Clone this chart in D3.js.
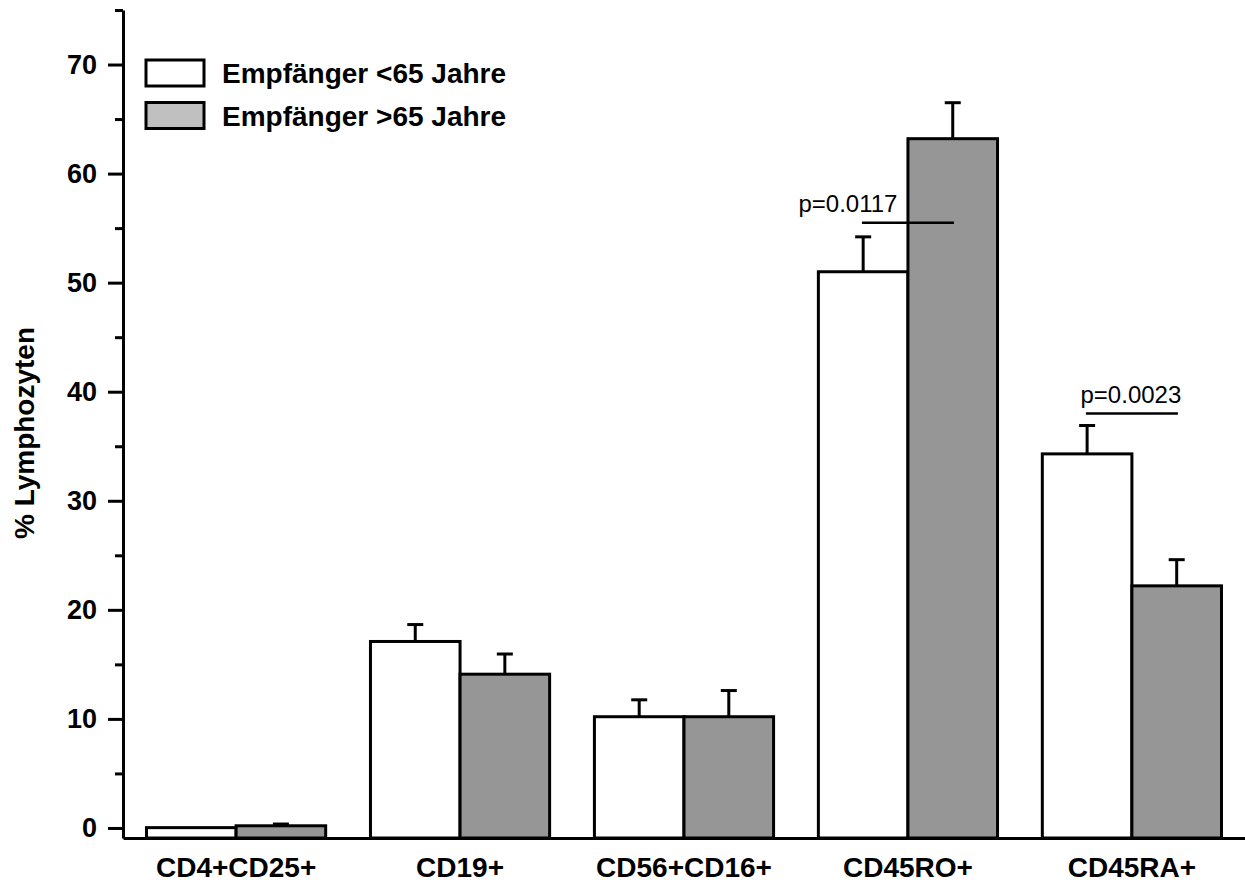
<!DOCTYPE html>
<html>
<head>
<meta charset="utf-8">
<script src="https://cdn.jsdelivr.net/npm/d3@7"></script>
<style>
  body { margin: 0; background: #fff; }
  svg { display: block; font-family: "Liberation Sans", Arial, sans-serif; }
</style>
</head>
<body>
<script>
var categories = ['CD4+CD25+','CD19+','CD56+CD16+','CD45RO+','CD45RA+'];
var seriesNames = ['Empfänger <65 Jahre','Empfänger >65 Jahre'];
var under65 = [0.03, 17.1, 10.2, 51.0, 34.3];
var under65Err = [0, 1.55, 1.55, 3.2, 2.6];
var over65 = [0.2, 14.1, 10.2, 63.2, 22.2];
var over65Err = [0.16, 1.85, 2.4, 3.3, 2.4];
var yTicks = [0,10,20,30,40,50,60,70];
var yMinor = [5,15,25,35,45,55,65,75];
var sigGroups = ['CD45RO+','CD45RA+'];
var sigLevels = [55.5, 38.0];
var sigLabels = ['p=0.0117','p=0.0023'];

var W = 1245, H = 886;
var svg = d3.select("body").append("svg").attr("width",W).attr("height",H);

var y = d3.scaleLinear().domain([-0.92,75]).range([838,10]);
var x = d3.scaleBand().domain(categories).range([123,1245])
  .paddingInner(0.2).paddingOuter(0.105);
var xs = d3.scaleBand().domain([0,1]).range([0,x.bandwidth()]);

var fills = ['#ffffff','#969696'];
var legendFills = ['#ffffff','#c0c0c0'];

var rows = [];
categories.forEach(function(c,i){
  rows.push({cat:c, s:0, v:under65[i], e:under65Err[i]});
  rows.push({cat:c, s:1, v:over65[i], e:over65Err[i]});
});

// bars
svg.append("g").selectAll("rect")
  .data(rows)
  .enter().append("rect")
    .attr("x",function(d){ return x(d.cat)+xs(d.s); })
    .attr("width",xs.bandwidth())
    .attr("y",function(d){ return y(d.v); })
    .attr("height",function(d){ return y.range()[0]-y(d.v); })
    .attr("fill",function(d){ return fills[d.s]; })
    .attr("stroke","#000")
    .attr("stroke-width",3);

// error bars (upper only)
var eb = svg.append("g").selectAll("g")
  .data(rows.filter(function(d){ return d.e>0; }))
  .enter().append("g")
  .attr("stroke","#000").attr("stroke-width",3);
eb.append("line")
  .attr("x1",function(d){ return x(d.cat)+xs(d.s)+xs.bandwidth()/2; })
  .attr("x2",function(d){ return x(d.cat)+xs(d.s)+xs.bandwidth()/2; })
  .attr("y1",function(d){ return y(d.v); })
  .attr("y2",function(d){ return y(d.v+d.e); });
eb.append("line")
  .attr("x1",function(d){ return x(d.cat)+xs(d.s)+xs.bandwidth()/2-8; })
  .attr("x2",function(d){ return x(d.cat)+xs(d.s)+xs.bandwidth()/2+8; })
  .attr("y1",function(d){ return y(d.v+d.e); })
  .attr("y2",function(d){ return y(d.v+d.e); });

// y axis
var yAxis = d3.axisLeft(y).tickValues(yTicks).tickSize(15).tickSizeOuter(0).tickPadding(11);
var gy = svg.append("g").attr("transform","translate(123,0)").call(yAxis);
gy.select(".domain").attr("stroke-width",3);
gy.selectAll(".tick line").attr("stroke-width",3);
gy.selectAll(".tick text")
  .attr("font-size",27).attr("font-weight","bold").attr("fill","#000")
  .attr("font-family","Liberation Sans, Arial, sans-serif");

var yAxisMinor = d3.axisLeft(y).tickValues(yMinor).tickSize(8).tickFormat("");
var gym = svg.append("g").attr("transform","translate(123,0)").call(yAxisMinor);
gym.select(".domain").remove();
gym.selectAll(".tick line").attr("stroke-width",3);

// x axis
var xAxis = d3.axisBottom(x).tickSize(0).tickPadding(19);
var gx = svg.append("g").attr("transform","translate(0,838)").call(xAxis);
gx.select(".domain").attr("stroke-width",3);
gx.selectAll(".tick text")
  .attr("font-size",28).attr("font-weight","bold").attr("fill","#000")
  .attr("font-family","Liberation Sans, Arial, sans-serif");

// y label
svg.append("text")
  .attr("transform","translate(34,433) rotate(-90)")
  .attr("text-anchor","middle")
  .attr("font-size",28).attr("font-weight","bold")
  .text("% Lymphozyten");

// legend
var lg = svg.append("g").selectAll("g")
  .data(seriesNames)
  .enter().append("g")
  .attr("transform",function(d,i){ return "translate(146,"+(60+i*42.5)+")"; });
lg.append("rect")
  .attr("width",58).attr("height",26)
  .attr("fill",function(d,i){ return legendFills[i]; })
  .attr("stroke","#000").attr("stroke-width",3);
lg.append("text")
  .attr("x",76).attr("y",23)
  .attr("font-size",28).attr("font-weight","bold")
  .text(function(d){ return d; });

// significance markers
var sigTextShift = [-60, -1];
var sg = svg.append("g").selectAll("g")
  .data(sigGroups)
  .enter().append("g");
sg.append("line")
  .attr("x1",function(d){ return x(d)+x.bandwidth()/2-46; })
  .attr("x2",function(d){ return x(d)+x.bandwidth()/2+46; })
  .attr("y1",function(d,i){ return y(sigLevels[i]); })
  .attr("y2",function(d,i){ return y(sigLevels[i]); })
  .attr("stroke","#000").attr("stroke-width",2.5);
sg.append("text")
  .attr("x",function(d,i){ return x(d)+x.bandwidth()/2+sigTextShift[i]; })
  .attr("y",function(d,i){ return y(sigLevels[i])-11; })
  .attr("text-anchor","middle")
  .attr("font-size",24)
  .text(function(d,i){ return sigLabels[i]; });
</script>
</body>
</html>
